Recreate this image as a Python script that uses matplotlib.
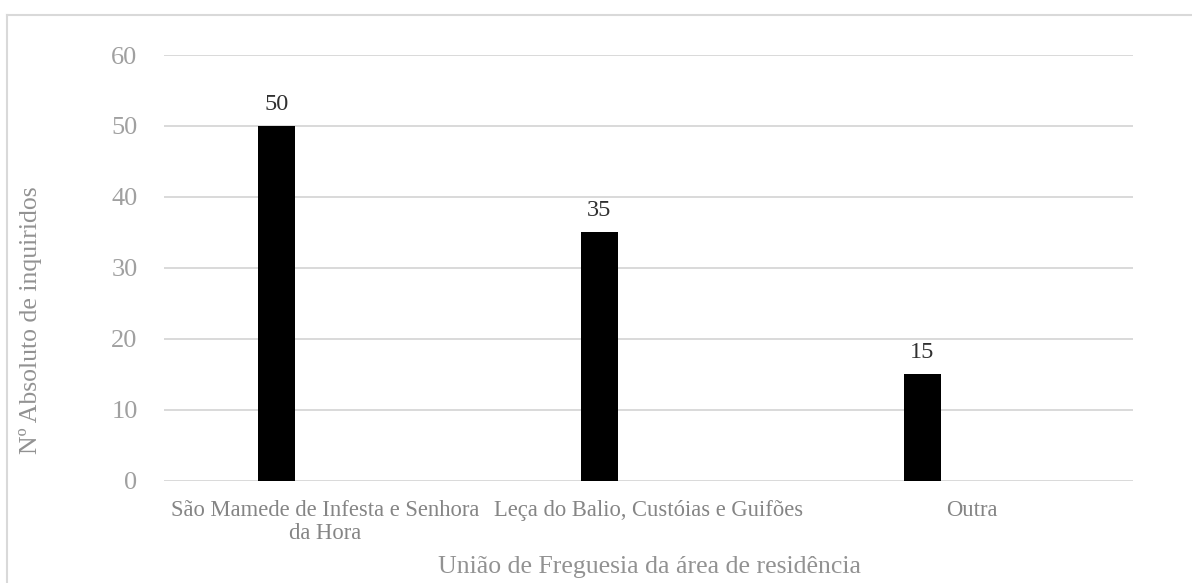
import numpy as np
import matplotlib
matplotlib.use('Agg')
import matplotlib.pyplot as plt
from matplotlib.lines import Line2D

# ---- data ----
categories = ["São Mamede de Infesta e Senhora\nda Hora",
              "Leça do Balio, Custóias e Guifões",
              "Outra"]
values = [50, 35, 15]
y_ticks = [0, 10, 20, 30, 40, 50, 60]
x_title = "União de Freguesia da área de residência"
y_title = "Nº Absoluto de inquiridos"

plt.rcParams['font.family'] = ['Liberation Serif', 'DejaVu Serif']

W, H = 1192, 583
fig = plt.figure(figsize=(W / 100, H / 100), dpi=100)
fig.patch.set_facecolor('white')

ax = fig.add_axes([164 / W, 1 - 480.5 / H, (1133 - 164) / W, (480.5 - 55) / H])

x = np.arange(len(categories))
offset = -0.152
width = 0.117
bars = ax.bar(x + offset, values, width=width, color='black', zorder=3)

ax.set_xlim(-0.5, len(categories) - 0.5)
ax.set_ylim(y_ticks[0], y_ticks[-1])
ax.set_yticks(y_ticks)
ax.set_yticklabels([str(t) for t in y_ticks], fontsize=19, color='#a0a0a0')
ax.set_xticks(x)
ax.set_xticklabels(categories, fontsize=16.3, color='#858585', linespacing=1.12)
ax.tick_params(axis='both', length=0)
ax.tick_params(axis='x', pad=14)
ax.tick_params(axis='y', pad=19)
for s in ax.spines.values():
    s.set_visible(False)
ax.grid(axis='y', color='#d9d9d9', lw=1.4, zorder=0)
ax.set_axisbelow(True)

for b, v in zip(bars, values):
    ax.annotate(str(v), xy=(b.get_x() + b.get_width() / 2, v), xytext=(0, 8),
                textcoords='offset points', ha='center', va='bottom',
                fontsize=17.5, color='#303030')

fig.text(649 / W, 1 - 567 / H, x_title, ha='center', va='center',
         fontsize=18.5, color='#929292')
fig.text(31 / W, 1 - 320 / H, y_title, ha='center', va='center', rotation=90,
         fontsize=18.5, color='#929292')

# outer chart border (cut off at the right and bottom)
bx, by = 7 / W, 1 - 15 / H
fig.add_artist(Line2D([bx, 1.0], [by, by], transform=fig.transFigure,
                      color='#d9d9d9', lw=1.5))
fig.add_artist(Line2D([bx, bx], [by, 0.0], transform=fig.transFigure,
                      color='#d9d9d9', lw=1.5))

fig.savefig('out.png', dpi=100, facecolor='white')
